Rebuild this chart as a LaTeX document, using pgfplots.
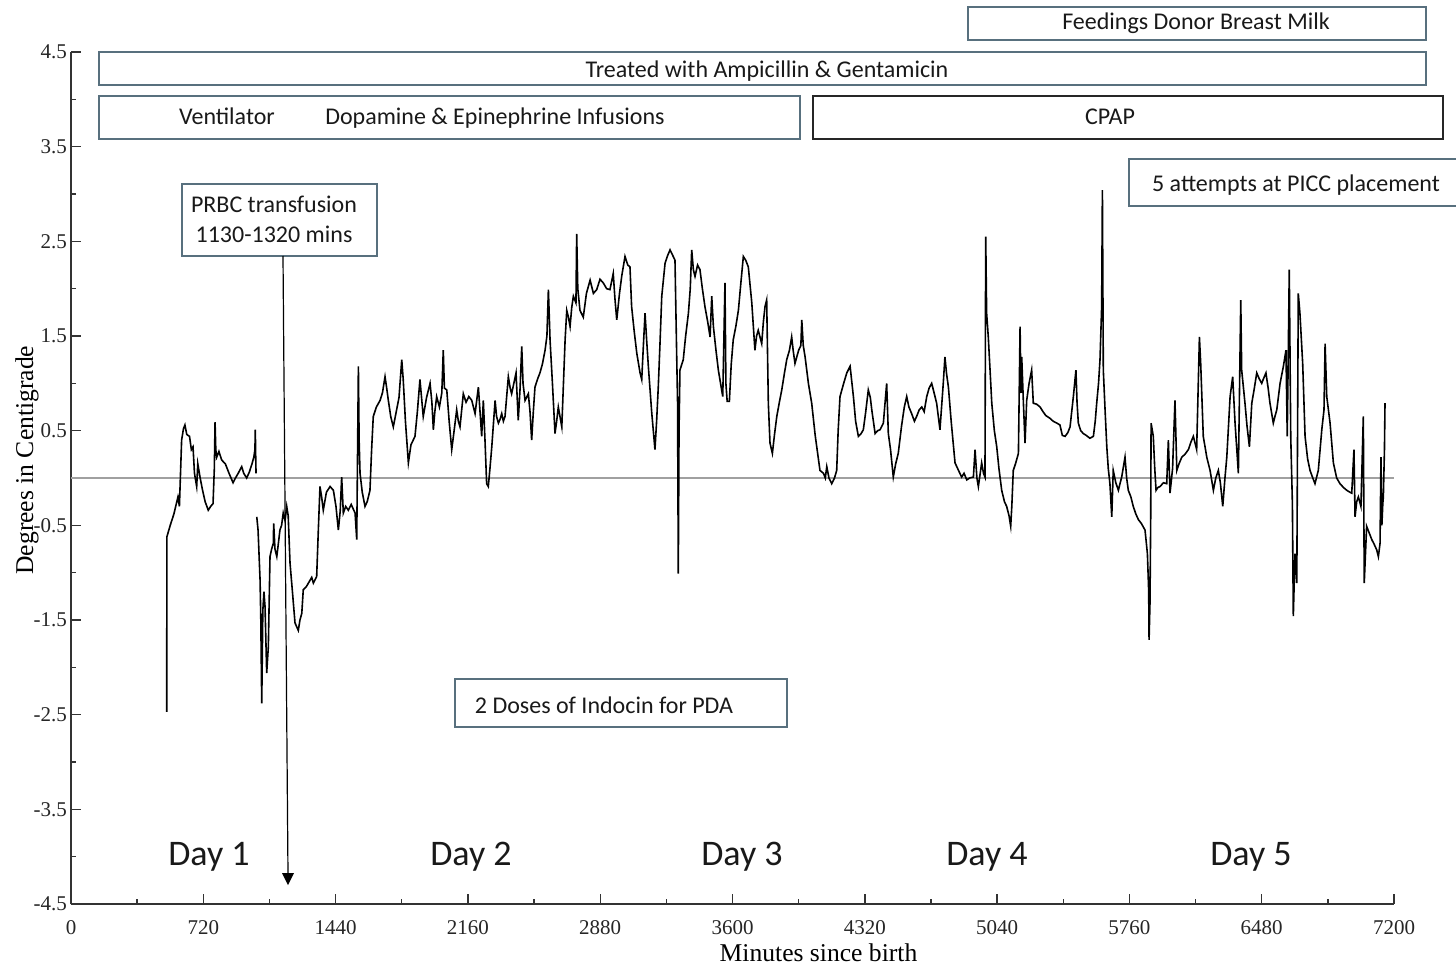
\documentclass[border=0pt]{standalone}
\usepackage{pgfplots}
\pgfplotsset{compat=1.18}
\usepackage{fontspec}
\setmainfont{Liberation Serif}
\newfontfamily\calib{Carlito}
\definecolor{boxline}{RGB}{88,112,126}
\definecolor{zeroline}{RGB}{160,160,160}

\begin{document}
\begin{tikzpicture}
% page = 1456 x 966 px, 1 px = 0.5pt
\useasboundingbox (0,0) rectangle (728pt,483pt);
\begin{axis}[
    scale only axis,
    width=661.5pt, height=426pt,
    at={(35.5pt,31pt)}, anchor=south west,
    xmin=0, xmax=7200, ymin=-4.5, ymax=4.5,
    axis x line*=bottom, axis y line*=left,
    axis line style={black!80, line width=0.8pt},
    tick style={black!80, line width=0.7pt},
    tick align=inside,
    major tick length=5pt, minor tick length=2.5pt,
    xtick={0,720,...,7200},
    minor xtick={360,1080,...,6840},
    ytick={-4.5,-3.5,-2.5,-1.5,-0.5,0.5,1.5,2.5,3.5,4.5},
    yticklabels={-4.5,-3.5,-2.5,-1.5,-0.5,0.5,1.5,2.5,3.5,4.5},
    minor ytick={-4,-3,-2,-1,0,1,2,3,4},
    /pgf/number format/1000 sep={},
    /pgf/number format/assume math mode=true,
    ticklabel style={font=\fontsize{10.5}{12}\selectfont, text=black!85},
    xticklabel style={yshift=-4.5pt},
    yticklabel style={xshift=1.5pt},
    xlabel={Minutes since birth},
    ylabel={Degrees in Centigrade},
    xlabel style={at={(rel axis cs:0.565,-0.0669)}, anchor=base, font=\fontsize{12.8}{15}\selectfont},
    ylabel style={at={(rel axis cs:-0.0287,0.521)}, anchor=base, font=\fontsize{12.8}{15}\selectfont},
]
% zero reference line
\addplot[zeroline, line width=0.8pt] coordinates {(0,0) (7200,0)};

% first recording piece, day 1
\addplot[black, line width=0.8pt] coordinates {
(521,-2.47) (521,-2.10) (522,-0.62) (540,-0.50) (560,-0.38) (582,-0.20) (590,-0.30) (596,0.05)
(602,0.40) (612,0.52) (620,0.56) (630,0.46) (645,0.44) (655,0.30) (664,0.33) (672,0.05)
(684,-0.09) (690,0.15) (702,0.01) (715,-0.12) (730,-0.25) (747,-0.34) (760,-0.30) (773,-0.27)
(780,0.10) (784,0.59) (788,0.30) (793,0.22) (805,0.28) (820,0.19) (840,0.15) (860,0.05)
(882,-0.05) (895,0.00) (910,0.05) (929,0.12) (940,0.05) (956,0.00) (970,0.06) (985,0.15)
(995,0.22) (1001,0.30) (1003,0.51) (1005,0.25) (1007,0.05)
};

% main recording
\addplot[black, line width=0.8pt] coordinates {
(1011,-0.41) (1018,-0.55) (1029,-1.08) (1033,-1.50) (1038,-2.38) (1044,-1.40) (1050,-1.20) (1056,-1.36)
(1065,-2.06) (1074,-1.78) (1083,-0.83) (1092,-0.75) (1101,-0.69) (1103,-0.48) (1110,-0.75) (1120,-0.83)
(1128,-0.70) (1137,-0.55) (1146,-0.50) (1155,-0.37) (1165,-0.45) (1174,-0.30) (1182,-0.40) (1192,-0.90)
(1205,-1.20) (1219,-1.53) (1237,-1.61) (1246,-1.50) (1256,-1.43) (1264,-1.18) (1280,-1.15) (1295,-1.10)
(1310,-1.05) (1319,-1.11) (1337,-1.04) (1346,-0.55) (1355,-0.09) (1364,-0.20) (1373,-0.34) (1390,-0.15)
(1410,-0.09) (1428,-0.13) (1442,-0.30) (1455,-0.55) (1465,-0.35) (1473,0.01) (1482,-0.37) (1495,-0.30)
(1509,-0.34) (1525,-0.28) (1546,-0.37) (1555,-0.65) (1564,1.18) (1568,0.40) (1573,0.05) (1585,-0.15)
(1600,-0.30) (1612,-0.25) (1627,-0.13) (1636,0.30) (1645,0.65) (1662,0.75) (1682,0.82) (1695,0.90)
(1709,1.07) (1718,0.95) (1727,0.82) (1740,0.65) (1754,0.54) (1770,0.70) (1785,0.85) (1800,1.25)
(1808,1.04) (1820,0.60) (1836,0.16) (1850,0.35) (1872,0.44) (1885,0.70) (1899,1.04) (1910,0.80)
(1917,0.65) (1935,0.85) (1954,1.00) (1964,0.80) (1972,0.51) (1980,0.70) (1990,0.86) (2005,0.75)
(2018,0.90) (2026,1.35) (2032,0.95) (2045,0.93) (2058,0.60) (2072,0.30) (2085,0.50) (2099,0.72)
(2108,0.60) (2117,0.54) (2135,0.89) (2150,0.80) (2165,0.86) (2181,0.82) (2190,0.75) (2199,0.68)
(2217,0.96) (2226,0.70) (2235,0.44) (2244,0.82) (2253,0.40) (2262,-0.06) (2271,-0.09) (2280,0.10)
(2290,0.33) (2308,0.82) (2316,0.65) (2326,0.58) (2335,0.62) (2344,0.68) (2353,0.60) (2362,0.65)
(2380,1.07) (2390,0.95) (2398,0.89) (2410,1.00) (2422,1.11) (2434,0.61) (2444,0.95) (2453,1.39)
(2460,1.00) (2471,0.82) (2489,0.89) (2498,0.70) (2507,0.40) (2516,0.70) (2525,0.96) (2540,1.05)
(2552,1.11) (2565,1.20) (2580,1.35) (2590,1.50) (2598,1.99) (2603,1.70) (2607,1.46) (2620,1.00)
(2634,0.47) (2643,0.60) (2652,0.75) (2671,0.54) (2680,1.00) (2689,1.46) (2698,1.77) (2707,1.70)
(2716,1.60) (2725,1.80) (2734,1.92) (2748,1.85) (2752,2.58) (2758,2.00) (2770,1.77) (2788,1.70)
(2805,1.95) (2825,2.09) (2843,1.95) (2861,1.99) (2879,2.10) (2897,2.06) (2915,2.00) (2933,1.99)
(2951,2.16) (2960,1.90) (2970,1.67) (2985,1.95) (2997,2.13) (3015,2.34) (3030,2.25) (3042,2.23)
(3051,1.81) (3065,1.55) (3079,1.32) (3097,1.11) (3106,1.04) (3115,1.40) (3124,1.74) (3133,1.45)
(3142,1.18) (3160,0.70) (3178,0.30) (3187,0.60) (3196,0.96) (3205,1.40) (3215,1.92) (3233,2.27)
(3247,2.35) (3260,2.41) (3275,2.35) (3287,2.30) (3296,1.32) (3301,0.80) (3305,-1.01) (3309,0.50)
(3314,1.14) (3332,1.25) (3345,1.50) (3360,1.74) (3370,2.00) (3378,2.41) (3387,2.20) (3396,2.13)
(3410,2.25) (3423,2.20) (3436,2.00) (3450,1.81) (3465,1.65) (3478,1.49) (3487,1.92) (3496,1.60)
(3510,1.35) (3523,1.14) (3535,1.00) (3547,0.86) (3559,2.06) (3564,1.00) (3571,0.81) (3583,0.81)
(3593,1.20) (3604,1.46) (3618,1.60) (3632,1.77) (3645,2.05) (3659,2.34) (3672,2.30) (3686,2.23)
(3705,1.85) (3722,1.35) (3731,1.50) (3740,1.56) (3759,1.42) (3768,1.65) (3777,1.81) (3786,1.88)
(3795,0.79) (3804,0.37) (3817,0.26) (3828,0.45) (3841,0.65) (3855,0.80) (3868,0.93) (3882,1.10)
(3895,1.25) (3910,1.35) (3922,1.49) (3930,1.35) (3940,1.21) (3960,1.35) (3972,1.40) (3977,1.67)
(3985,1.40) (3995,1.28) (4013,1.00) (4031,0.79) (4050,0.45) (4076,0.08) (4095,0.05) (4105,0.00)
(4113,0.12) (4125,0.00) (4140,-0.06) (4155,0.00) (4167,0.08) (4175,0.50) (4185,0.86) (4205,1.00)
(4222,1.11) (4240,1.18) (4258,0.86) (4270,0.60) (4285,0.44) (4300,0.47) (4312,0.51) (4325,0.70)
(4339,0.93) (4350,0.85) (4358,0.72) (4376,0.47) (4390,0.50) (4403,0.51) (4421,0.58) (4439,1.00)
(4448,0.47) (4460,0.30) (4475,0.01) (4488,0.15) (4502,0.26) (4520,0.55) (4535,0.75) (4548,0.86)
(4560,0.75) (4575,0.68) (4590,0.60) (4602,0.65) (4616,0.72) (4630,0.75) (4643,0.70) (4657,0.86)
(4670,0.95) (4684,1.00) (4697,0.90) (4711,0.79) (4729,0.51) (4747,1.00) (4756,1.28) (4765,1.10)
(4775,0.96) (4790,0.60) (4811,0.16) (4830,0.08) (4847,0.01) (4860,0.05) (4875,-0.02) (4890,0.00)
(4911,0.01) (4920,0.30) (4930,0.00) (4938,-0.09) (4956,0.16) (4966,0.05) (4974,0.01) (4978,2.55)
(4983,1.74) (4992,1.49) (5000,1.20) (5011,0.79) (5025,0.50) (5038,0.33) (5050,0.10) (5065,-0.13)
(5080,-0.25) (5092,-0.30) (5105,-0.40) (5114,-0.51) (5120,-0.30) (5128,0.08) (5140,0.15) (5156,0.26)
(5165,1.60) (5170,0.90) (5174,1.28) (5183,0.80) (5192,0.37) (5201,0.82) (5214,1.00) (5228,1.14)
(5237,0.79) (5255,0.78) (5274,0.75) (5290,0.70) (5305,0.66) (5328,0.63) (5345,0.60) (5365,0.58)
(5382,0.56) (5395,0.45) (5410,0.44) (5425,0.48) (5437,0.54) (5455,0.86) (5469,1.14) (5475,0.80)
(5482,0.58) (5495,0.50) (5509,0.47) (5525,0.45) (5545,0.42) (5564,0.44) (5574,0.60) (5582,0.79)
(5592,1.00) (5600,1.25) (5609,1.81) (5613,3.04) (5618,1.14) (5628,0.70) (5637,0.33) (5645,0.10)
(5654,-0.06) (5664,-0.41) (5672,0.08) (5686,-0.05) (5700,-0.13) (5710,-0.05) (5718,0.01) (5736,0.22)
(5745,0.00) (5754,-0.13) (5768,-0.20) (5781,-0.30) (5795,-0.38) (5809,-0.44) (5825,-0.48) (5845,-0.55)
(5858,-0.80) (5865,-1.20) (5867,-1.71) (5872,-1.32) (5876,-0.40) (5878,0.58) (5890,0.44) (5898,0.10)
(5905,-0.13) (5915,-0.10) (5927,-0.09) (5945,-0.05) (5963,-0.06) (5972,0.40) (5981,-0.16) (5995,0.10)
(6008,0.82) (6018,0.08) (6030,0.15) (6045,0.22) (6062,0.25) (6081,0.30) (6095,0.38) (6108,0.44)
(6126,0.30) (6141,1.49) (6148,1.21) (6162,0.44) (6181,0.22) (6199,0.08) (6217,-0.13) (6230,0.00)
(6244,0.08) (6255,-0.05) (6268,-0.30) (6280,0.00) (6290,0.22) (6308,0.86) (6322,1.07) (6335,0.58)
(6353,0.05) (6366,1.88) (6371,1.14) (6389,0.79) (6400,0.55) (6413,0.33) (6426,0.79) (6440,0.95)
(6453,1.11) (6466,1.05) (6480,1.00) (6490,1.05) (6503,1.11) (6515,0.95) (6525,0.79) (6543,0.58)
(6552,0.65) (6562,0.72) (6580,1.00) (6598,1.18) (6612,1.35) (6619,0.44) (6630,2.20) (6638,0.44)
(6647,-0.27) (6652,-1.46) (6661,-0.80) (6671,-1.11) (6679,1.95) (6688,1.74) (6703,1.21) (6716,0.44)
(6730,0.20) (6743,0.08) (6758,0.00) (6770,-0.06) (6788,0.08) (6807,0.51) (6819,0.72) (6825,1.42)
(6834,0.86) (6852,0.58) (6870,0.16) (6888,0.00) (6906,-0.06) (6925,-0.10) (6943,-0.13) (6960,-0.15)
(6970,-0.16) (6982,0.30) (6988,-0.41) (6997,-0.25) (7006,-0.20) (7020,-0.30) (7033,0.65) (7038,-1.11)
(7051,-0.51) (7065,-0.58) (7079,-0.65) (7092,-0.70) (7106,-0.76) (7115,-0.83) (7124,-0.69) (7129,0.22)
(7134,-0.50) (7139,-0.27) (7142,-0.20) (7148,0.30) (7151,0.79)
};
\end{axis}

% annotations, in pixel units of the page (origin top left)
\begin{scope}[shift={(0pt,483pt)}, x=0.5pt, y=-0.5pt,
  every node/.style={font=\calib\fontsize{12}{14}\selectfont, text=black!90, inner sep=0pt, anchor=base}]
  \draw[boxline, line width=0.75pt] (968,7) rectangle (1426,40);
  \node at (1196,29.5) {Feedings Donor Breast Milk};
  \draw[boxline, line width=0.75pt] (99,52) rectangle (1426,85);
  \node at (767,77.5) {Treated with Ampicillin \& Gentamicin};
  \draw[boxline, line width=0.75pt] (99,96) rectangle (800,139);
  \node at (227,125) {Ventilator};
  \node at (495,125) {Dopamine \& Epinephrine Infusions};
  \draw[black!85, line width=0.75pt] (813,96) rectangle (1443,139);
  \node at (1110,125) {CPAP};
  \draw[boxline, line width=0.75pt] (1129,159) rectangle (1462,206);
  \node at (1296,191.5) {5 attempts at PICC placement};
  \draw[boxline, line width=0.75pt] (182,184) rectangle (377,256);
  \node at (274,212.5) {PRBC transfusion};
  \node at (274,242) {1130-1320 mins};
  \draw[boxline, line width=0.75pt] (455,679) rectangle (787,727);
  \node at (604,713.5) {2 Doses of Indocin for PDA};
  % transfusion arrow
  \draw[black, line width=0.6pt] (283,256) -- (288,875);
  \fill[black] (282,873) -- (294,873) -- (288,885) -- cycle;
  % day labels
  \foreach \dx/\dl in {209/1, 471/2, 742/3, 987/4, 1251/5}
    \node[font=\calib\fontsize{18}{21}\selectfont] at (\dx,865) {Day \dl};
\end{scope}
\end{tikzpicture}
\end{document}
